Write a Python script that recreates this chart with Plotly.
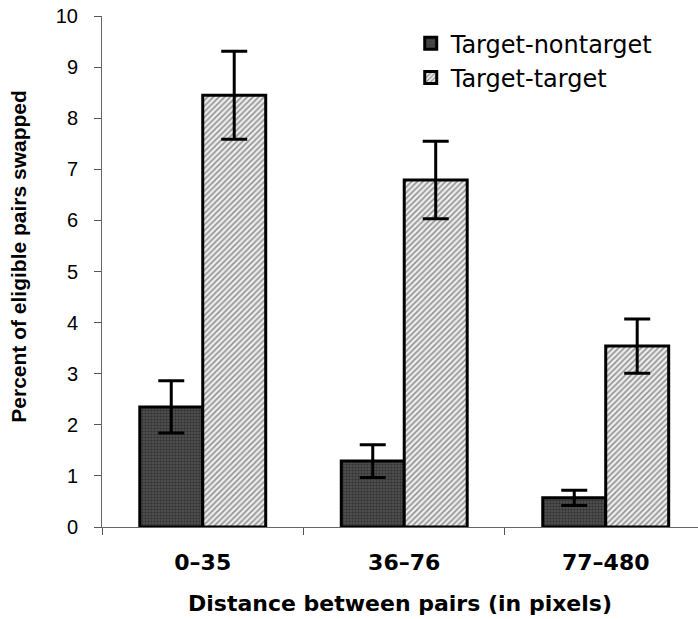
import plotly.graph_objects as go

# Distance bins (pixels) and swap rates (%) with error bars
categories = ["0–35", "36–76", "77–480"]
nontarget_vals = [2.35, 1.29, 0.57]
nontarget_err = [0.51, 0.32, 0.15]
target_vals = [8.45, 6.79, 3.54]
target_err = [0.86, 0.76, 0.53]
y_ticks = list(range(0, 11))

fig = go.Figure()

fig.add_trace(go.Bar(
    name="Target-nontarget",
    x=categories,
    y=nontarget_vals,
    error_y=dict(type="data", array=nontarget_err, color="black", thickness=3, width=13),
    marker=dict(
        color="#444444",
        line=dict(color="black", width=3),
        pattern=dict(shape=".", fgcolor="#111111", bgcolor="#555555", size=3, solidity=0.5),
    ),
))

fig.add_trace(go.Bar(
    name="Target-target",
    x=categories,
    y=target_vals,
    error_y=dict(type="data", array=target_err, color="black", thickness=3, width=13),
    marker=dict(
        color="white",
        line=dict(color="black", width=3),
        pattern=dict(shape="/", fgcolor="#333333", bgcolor="#ededed", size=4, solidity=0.38),
    ),
))

fig.update_layout(
    width=698,
    height=619,
    margin=dict(l=102, r=0, t=16, b=92),
    paper_bgcolor="white",
    plot_bgcolor="white",
    barmode="group",
    bargap=0.375,
    bargroupgap=0,
    font=dict(family="Liberation Sans, Arial, sans-serif", color="black"),
    showlegend=True,
    legend=dict(
        x=0.518, y=0.99, xanchor="left", yanchor="top",
        font=dict(family="DejaVu Sans", size=24, color="black"),
        bgcolor="rgba(0,0,0,0)",
        traceorder="normal",
        tracegroupgap=0,
    ),
    xaxis=dict(
        range=[-0.5, 2.458],
        showline=True, linecolor="#666666", linewidth=1,
        ticks="outside", tickson="boundaries", ticklen=7, tickcolor="#555555",
        tickfont=dict(family="DejaVu Sans", size=22, color="black", weight="bold"),
        ticklabelstandoff=16,
        showgrid=False,
        title=dict(
            text="Distance between pairs (in pixels)",
            font=dict(family="DejaVu Sans", size=22, color="black", weight="bold"),
            standoff=21,
        ),
    ),
    yaxis=dict(
        range=[0, 10],
        tickvals=y_ticks,
        showline=True, linecolor="#666666", linewidth=1,
        ticks="outside", ticklen=7, tickcolor="#555555",
        tickfont=dict(family="Liberation Sans, Arial", size=20, color="black"),
        ticklabelstandoff=12,
        showgrid=False, zeroline=False,
    ),
    annotations=[dict(
        text="Percent of eligible pairs swapped",
        xref="paper", yref="paper",
        x=-0.14, y=0.53, xanchor="center", yanchor="middle",
        textangle=-90, showarrow=False,
        font=dict(family="Liberation Sans, Arial", size=21, color="black", weight="bold"),
    )],
)

fig.write_html("out.html")
